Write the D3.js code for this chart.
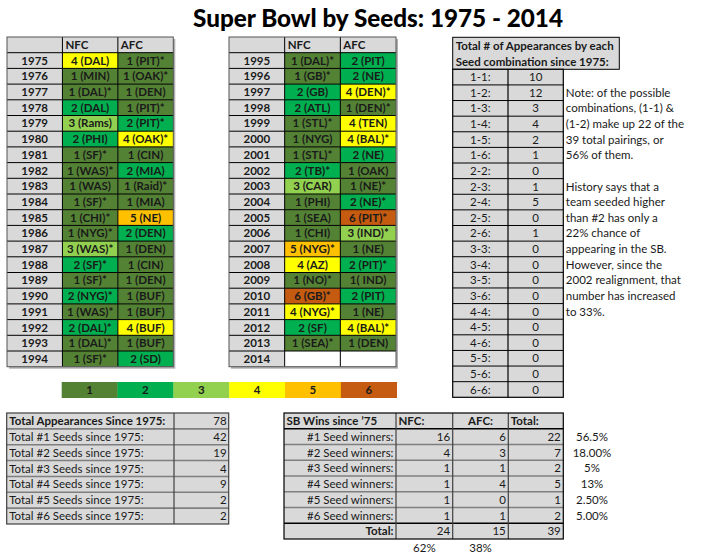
<!DOCTYPE html>
<html><head><meta charset="utf-8">
<script src="https://cdn.jsdelivr.net/npm/d3@7"></script>
<style>
body{margin:0;background:#fff}
svg{display:block}
text{font-family:Lato,"Open Sans",sans-serif;fill:#1a1a1a}
</style>
</head><body>
<svg id="c" width="717" height="553"></svg>
<script>
// ---------------- DATA ----------------
const titleText = "Super Bowl by Seeds: 1975 - 2014";
const confHeaders = ["NFC", "AFC"];

const yearsA = ["1975","1976","1977","1978","1979","1980","1981","1982","1983","1984","1985","1986","1987","1988","1989","1990","1991","1992","1993","1994"];
const nfcSeedsA = [4,1,1,2,3,2,1,1,1,1,1,1,3,2,1,2,1,2,1,1];
const nfcLabelsA = ["4 (DAL)","1 (MIN)","1 (DAL)*","2 (DAL)","3 (Rams)","2 (PHI)","1 (SF)*","1 (WAS)*","1 (WAS)","1 (SF)*","1 (CHI)*","1 (NYG)*","3 (WAS)*","2 (SF)*","1 (SF)*","2 (NYG)*","1 (WAS)*","2 (DAL)*","1 (DAL)*","1 (SF)*"];
const afcSeedsA = [1,1,1,1,2,4,1,2,1,1,5,2,1,1,1,1,1,4,1,2];
const afcLabelsA = ["1 (PIT)*","1 (OAK)*","1 (DEN)","1 (PIT)*","2 (PIT)*","4 (OAK)*","1 (CIN)","2 (MIA)","1 (Raid)*","1 (MIA)","5 (NE)","2 (DEN)","1 (DEN)","1 (CIN)","1 (DEN)","1 (BUF)","1 (BUF)","4 (BUF)","1 (BUF)","2 (SD)"];

const yearsB = ["1995","1996","1997","1998","1999","2000","2001","2002","2003","2004","2005","2006","2007","2008","2009","2010","2011","2012","2013","2014"];
const nfcSeedsB = [1,1,2,2,1,1,1,2,3,1,1,1,5,4,1,6,4,2,1,null];
const nfcLabelsB = ["1 (DAL)*","1 (GB)*","2 (GB)","2 (ATL)","1 (STL)*","1 (NYG)","1 (STL)*","2 (TB)*","3 (CAR)","1 (PHI)","1 (SEA)","1 (CHI)","5 (NYG)*","4 (AZ)","1 (NO)*","6 (GB)*","4 (NYG)*","2 (SF)","1 (SEA)*",""];
const afcSeedsB = [2,2,4,1,4,4,2,1,1,2,6,3,1,2,1,2,1,4,1,null];
const afcLabelsB = ["2 (PIT)","2 (NE)","4 (DEN)*","1 (DEN)*","4 (TEN)","4 (BAL)*","2 (NE)","1 (OAK)","1 (NE)*","2 (NE)*","6 (PIT)*","3 (IND)*","1 (NE)","2 (PIT)*","1( IND)","2 (PIT)","1 (NE)","4 (BAL)*","1 (DEN)",""];

const seeds = [1,2,3,4,5,6];

const comboHeader = ["Total # of Appearances by each","Seed combination since 1975:"];
const combos = ["1-1:","1-2:","1-3:","1-4:","1-5:","1-6:","2-2:","2-3:","2-4:","2-5:","2-6:","3-3:","3-4:","3-5:","3-6:","4-4:","4-5:","4-6:","5-5:","5-6:","6-6:"];
const comboCounts = [10,12,3,4,2,1,0,1,5,0,1,0,0,0,0,0,0,0,0,0,0];
const noteLines = ["","Note: of the possible","combinations, (1-1) &","(1-2) make up 22 of the","39 total pairings, or","56% of them.","","History says that a","team seeded higher","than #2 has only a","22% chance of","appearing in the SB.","However, since the","2002 realignment, that","number has increased","to 33%."];

const totalsLabels = ["Total Appearances Since 1975:","Total #1 Seeds since 1975:","Total #2 Seeds since 1975:","Total #3 Seeds since 1975:","Total #4 Seeds since 1975:","Total #5 Seeds since 1975:","Total #6 Seeds since 1975:"];
const totalsValues = [78,42,19,4,9,2,2];

const winsHeaders = ["SB Wins since \u201975","NFC:","AFC:","Total:"];
const winsLabels = ["#1 Seed winners:","#2 Seed winners:","#3 Seed winners:","#4 Seed winners:","#5 Seed winners:","#6 Seed winners:"];
const nfcWins = [16,4,1,1,1,1];
const afcWins = [6,3,1,4,0,1];
const totalWins = [22,7,2,5,1,2];
const winPct = ["56.5%","18.00%","5%","13%","2.50%","5.00%"];
const winsTotalLabel = "Total:";
const winsTotals = [24,15,39];
const confPct = ["62%","38%"];

// ---------------- DRAW ----------------
const svg = d3.select("#c");
const seedColor = d3.scaleOrdinal().domain(seeds).range(["#548235","#00B050","#92D050","#FFFF00","#FFC000","#C55A11"]);
const GRAY = "#D9D9D9";
const FS = 11.5;

// Title
svg.append("text").attr("x", 378).attr("y", 27).attr("text-anchor","middle")
  .attr("font-size", 24).attr("font-weight", 900)
  .attr("textLength", 370).attr("lengthAdjust","spacingAndGlyphs")
  .style("fill","#000").text(titleText);

function seedTable(x0, x1, years, nfcL, nfcS, afcL, afcS) {
  const g = svg.append("g");
  const top = 37, bottom = 366.7;
  const rows = d3.scaleBand().domain(["hdr", ...years]).range([top, bottom]);
  const cols = d3.scaleBand().domain(["year", ...confHeaders]).range([x0, x1]);
  const bh = rows.bandwidth(), bw = cols.bandwidth();
  g.append("rect").attr("x", x0 + 2).attr("y", top + 2).attr("width", x1 - x0).attr("height", bottom - top).attr("fill", "#b0b0b0");
  g.selectAll("rect.h").data(cols.domain()).join("rect")
    .attr("x", d => cols(d)).attr("y", rows("hdr")).attr("width", bw).attr("height", bh).attr("fill", GRAY);
  g.selectAll("text.h").data(confHeaders).join("text")
    .attr("x", d => cols(d) + 3).attr("y", rows("hdr") + bh / 2).attr("dy", "0.36em")
    .attr("font-size", FS).attr("font-weight", 700).text(d => d);
  const recs = years.map((y, i) => ({ y, cells: [
    { c: "year", s: null, t: y, fill: GRAY },
    { c: "NFC", s: nfcS[i], t: nfcL[i], fill: nfcS[i] ? seedColor(nfcS[i]) : "#fff" },
    { c: "AFC", s: afcS[i], t: afcL[i], fill: afcS[i] ? seedColor(afcS[i]) : "#fff" }
  ]}));
  const rg = g.selectAll("g.r").data(recs).join("g").attr("transform", d => `translate(0,${rows(d.y)})`);
  rg.selectAll("rect").data(d => d.cells).join("rect")
    .attr("x", d => cols(d.c)).attr("width", bw).attr("height", bh).attr("fill", d => d.fill);
  rg.selectAll("text").data(d => d.cells).join("text")
    .attr("x", d => cols(d.c) + bw / 2).attr("y", bh / 2).attr("dy", "0.36em")
    .attr("text-anchor", "middle").attr("font-size", FS).attr("font-weight", 700).text(d => d.t);
  // grid lines
  g.selectAll("line.hr").data(rows.domain().slice(1)).join("line")
    .attr("x1", x0).attr("x2", x1).attr("y1", d => rows(d)).attr("y2", d => rows(d))
    .attr("stroke", "#000").attr("stroke-width", 1);
  g.selectAll("line.vr").data(cols.domain().slice(1)).join("line")
    .attr("y1", top).attr("y2", bottom).attr("x1", d => cols(d)).attr("x2", d => cols(d))
    .attr("stroke", "#000").attr("stroke-width", 1);
  g.append("rect").attr("x", x0).attr("y", top).attr("width", x1 - x0).attr("height", bottom - top)
    .attr("fill", "none").attr("stroke", "#555").attr("stroke-width", 1);
}
seedTable(7, 173.3, yearsA, nfcLabelsA, nfcSeedsA, afcLabelsA, afcSeedsA);
seedTable(229, 396, yearsB, nfcLabelsB, nfcSeedsB, afcLabelsB, afcSeedsB);

// Legend
const lg = svg.append("g");
const lx = d3.scaleBand().domain(seeds).range([61.7, 396.7]);
lg.selectAll("rect").data(seeds).join("rect")
  .attr("x", d => lx(d)).attr("y", 382).attr("width", lx.bandwidth() + 0.3).attr("height", 16).attr("fill", d => seedColor(d));
lg.selectAll("text").data(seeds).join("text")
  .attr("x", d => lx(d) + lx.bandwidth() / 2).attr("y", 390).attr("dy", "0.36em")
  .attr("text-anchor", "middle").attr("font-size", FS).attr("font-weight", 700).text(d => d);

// Combination table
(function () {
  const g = svg.append("g");
  const x0 = 452.7, xm = 507.3, x1 = 563.3, hx1 = 619.3;
  const top = 69.3, bottom = 397.3;
  const rows = d3.scaleBand().domain(combos).range([top, bottom]);
  const bh = rows.bandwidth();
  const cols = d3.scaleBand().domain(["label", "value"]).range([x0, x1]);
  g.append("rect").attr("x", x0).attr("y", 37.3).attr("width", hx1 - x0).attr("height", top - 37.3)
    .attr("fill", GRAY).attr("stroke", "#000").attr("stroke-width", 1);
  g.selectAll("text.h").data(comboHeader).join("text")
    .attr("x", x0 + 3).attr("y", (d, i) => 45.5 + i * 16.5).attr("dy", "0.36em")
    .attr("font-size", FS).attr("font-weight", 700).text(d => d);
  g.append("rect").attr("x", x0).attr("y", top).attr("width", x1 - x0).attr("height", bottom - top).attr("fill", GRAY);
  const recs = combos.map((c, i) => ({ c, v: comboCounts[i] }));
  g.selectAll("text.l").data(recs).join("text")
    .attr("x", cols("label") + cols.bandwidth() / 2).attr("y", d => rows(d.c) + bh / 2).attr("dy", "0.36em")
    .attr("text-anchor", "middle").attr("font-size", FS).text(d => d.c);
  g.selectAll("text.v").data(recs).join("text")
    .attr("x", cols("value") + cols.bandwidth() / 2).attr("y", d => rows(d.c) + bh / 2).attr("dy", "0.36em")
    .attr("text-anchor", "middle").attr("font-size", FS).text(d => d.v);
  g.selectAll("line.hr").data(combos.slice(1)).join("line")
    .attr("x1", x0).attr("x2", x1).attr("y1", d => rows(d)).attr("y2", d => rows(d))
    .attr("stroke", "#000").attr("stroke-width", 1);
  g.append("line").attr("x1", cols("value")).attr("x2", cols("value")).attr("y1", top).attr("y2", bottom)
    .attr("stroke", "#000").attr("stroke-width", 1.2);
  g.append("rect").attr("x", x0).attr("y", top).attr("width", x1 - x0).attr("height", bottom - top)
    .attr("fill", "none").attr("stroke", "#000").attr("stroke-width", 1.2);
  // notes
  g.selectAll("text.n").data(noteLines.map((t, i) => ({ t, c: combos[i] }))).join("text")
    .attr("x", x1 + 2.5).attr("y", d => rows(d.c) + bh / 2).attr("dy", "0.36em")
    .attr("font-size", FS).text(d => d.t);
})();

// Totals table (bottom left)
(function () {
  const g = svg.append("g");
  const x0 = 6.7, xm = 174, x1 = 228.7, top = 413, bottom = 524;
  const rows = d3.scaleBand().domain(totalsLabels).range([top, bottom]);
  const bh = rows.bandwidth();
  g.append("rect").attr("x", x0).attr("y", top).attr("width", x1 - x0).attr("height", bottom - top).attr("fill", GRAY);
  g.selectAll("line.hr").data(totalsLabels.slice(1)).join("line")
    .attr("x1", x0).attr("x2", x1).attr("y1", d => rows(d)).attr("y2", d => rows(d))
    .attr("stroke", "#7f7f7f").attr("stroke-width", 1.6);
  g.append("line").attr("x1", xm).attr("x2", xm).attr("y1", top).attr("y2", bottom).attr("stroke", "#404040").attr("stroke-width", 1.2);
  g.append("rect").attr("x", x0).attr("y", top).attr("width", x1 - x0).attr("height", bottom - top)
    .attr("fill", "none").attr("stroke", "#404040").attr("stroke-width", 1.2);
  const recs = totalsLabels.map((l, i) => ({ l, v: totalsValues[i], b: i === 0 }));
  g.selectAll("text.l").data(recs).join("text")
    .attr("x", x0 + 2.5).attr("y", d => rows(d.l) + bh / 2).attr("dy", "0.36em")
    .attr("font-size", FS).attr("font-weight", d => d.b ? 700 : 400).text(d => d.l);
  g.selectAll("text.v").data(recs).join("text")
    .attr("x", x1 - 2).attr("y", d => rows(d.l) + bh / 2).attr("dy", "0.36em")
    .attr("text-anchor", "end").attr("font-size", FS).text(d => d.v);
})();

// Wins table (bottom right)
(function () {
  const g = svg.append("g");
  const edges = [284, 396, 452.7, 508.3, 563.3];
  const top = 413, bottom = 539;
  const rowKeys = ["hdr", ...winsLabels, "total"];
  const rows = d3.scaleBand().domain(rowKeys).range([top, bottom]);
  const bh = rows.bandwidth();
  const x0 = edges[0], x1 = edges[4];
  g.append("rect").attr("x", x0).attr("y", top).attr("width", x1 - x0).attr("height", bottom - top).attr("fill", GRAY);
  g.selectAll("line.hr").data(rowKeys.slice(1)).join("line")
    .attr("x1", x0).attr("x2", x1).attr("y1", d => rows(d)).attr("y2", d => rows(d))
    .attr("stroke", (d, i) => (i === 0 || i === rowKeys.length - 2) ? "#000" : "#7f7f7f").attr("stroke-width", 1.6);
  g.selectAll("line.vr").data(edges.slice(1, 4)).join("line")
    .attr("x1", d => d).attr("x2", d => d).attr("y1", top).attr("y2", bottom)
    .attr("stroke", "#404040").attr("stroke-width", 1.2);
  g.append("rect").attr("x", x0).attr("y", top).attr("width", x1 - x0).attr("height", bottom - top)
    .attr("fill", "none").attr("stroke", "#000").attr("stroke-width", 1.2);
  const cy = k => rows(k) + bh / 2;
  // headers
  g.selectAll("text.h").data(winsHeaders).join("text")
    .attr("x", (d, i) => i === 2 ? (edges[2] + edges[3]) / 2 : edges[i] + 2.5)
    .attr("text-anchor", (d, i) => i === 2 ? "middle" : "start")
    .attr("y", cy("hdr")).attr("dy", "0.36em").attr("font-size", FS).attr("font-weight", 700).text(d => d);
  const recs = winsLabels.map((l, i) => ({ l, vals: [nfcWins[i], afcWins[i], totalWins[i]], p: winPct[i] }));
  g.selectAll("text.l").data(recs).join("text")
    .attr("x", edges[1] - 2.5).attr("y", d => cy(d.l)).attr("dy", "0.36em")
    .attr("text-anchor", "end").attr("font-size", FS).text(d => d.l);
  recs.forEach(r => {
    g.selectAll(null).data(r.vals).join("text")
      .attr("x", (d, j) => edges[j + 2] - 2.5).attr("y", cy(r.l)).attr("dy", "0.36em")
      .attr("text-anchor", "end").attr("font-size", FS).text(d => d);
  });
  g.selectAll("text.p").data(recs).join("text")
    .attr("x", 592).attr("y", d => cy(d.l)).attr("dy", "0.36em")
    .attr("text-anchor", "middle").attr("font-size", FS).text(d => d.p);
  g.append("text").attr("x", edges[1] - 2.5).attr("y", cy("total")).attr("dy", "0.36em")
    .attr("text-anchor", "end").attr("font-size", FS).attr("font-weight", 700).text(winsTotalLabel);
  g.selectAll("text.t").data(winsTotals).join("text")
    .attr("x", (d, j) => edges[j + 2] - 2.5).attr("y", cy("total")).attr("dy", "0.36em")
    .attr("text-anchor", "end").attr("font-size", FS).text(d => d);
  g.selectAll("text.cp").data(confPct).join("text")
    .attr("x", (d, j) => (edges[j + 1] + edges[j + 2]) / 2).attr("y", bottom + 8.5).attr("dy", "0.36em")
    .attr("text-anchor", "middle").attr("font-size", FS).text(d => d);
})();
</script>
</body></html>
